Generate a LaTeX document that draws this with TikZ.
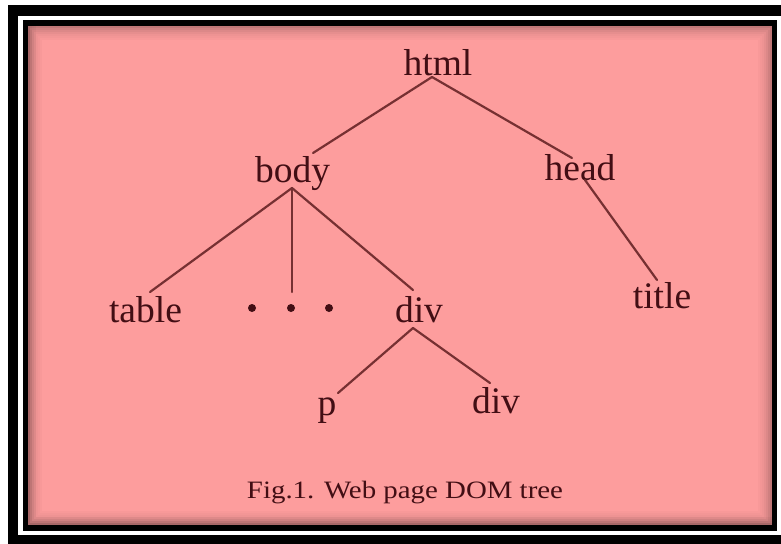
\documentclass[tikz,border=0pt]{standalone}
\usepackage{fontspec}
\setmainfont{Liberation Serif}
\definecolor{pinkbg}{RGB}{253,157,157}
\definecolor{inkc}{RGB}{66,14,20}
\definecolor{edgec}{RGB}{118,48,50}
\begin{document}
\begin{tikzpicture}[x=1pt,y=-1pt,
  lbl/.style={inner sep=0pt, anchor=base, text=inkc, font=\fontsize{37.5}{40}\selectfont},
  captionlbl/.style={inner sep=0pt, anchor=base, text=inkc, font=\fontsize{25}{28}\selectfont, xscale=1.155},
  edge/.style={draw=edgec, line width=2.2pt, line cap=round},
  dotnode/.style={circle, fill=inkc, inner sep=0pt, minimum size=8pt}]
\useasboundingbox (0,0) rectangle (781,543);
\clip (0,0) rectangle (781,543);
\fill[white] (0,0) rectangle (781,543);
% outer frame
\draw[line width=10.8pt] (13,10.5) rectangle (800,540.5);
% pink panel with inner shadow
\fill[pinkbg] (28,26) rectangle (772,525);
\foreach \i/\o in {1/0.24,2/0.18,3/0.13,4/0.09,5/0.06,6/0.04,7/0.02}
  \draw[black, opacity=\o, line width=2pt] ({27+2*\i},{25+2*\i}) rectangle ({773-2*\i},{526-2*\i});
% extra shadow on left and bottom edges
\foreach \i/\o in {1/0.12,2/0.08,3/0.05,4/0.03}
  \draw[black, opacity=\o, line width=2pt] ({27+2*\i},26) -- ({27+2*\i},{526-2*\i}) -- (772,{526-2*\i});
% inner frame line
\draw[line width=5.5pt] (25.5,23) rectangle (774.5,528);
% nodes
\node[lbl] (html) at (438,75) {html};
\node[lbl] (body) at (292.5,182) {body};
\node[lbl] (head) at (580,180) {head};
\node[lbl] (table) at (145.5,322) {table};
\node[dotnode] (dot1) at (252,308) {};
\node[dotnode] (dot2) at (291,308) {};
\node[dotnode] (dot3) at (329,308) {};
\node[lbl] (div) at (419,322) {div};
\node[lbl] (title) at (662,308) {title};
\node[lbl] (p) at (327,415) {p};
\node[lbl] (div2) at (496,413) {div};
\node[captionlbl] (cap) at (405,498) {Fig.1. Web page DOM tree};
% connectors
\draw[edge] ([shift={(-6,2)}]html.base) -- ([shift={(20.5,-29)}]body.base);
\draw[edge] ([shift={(-6,2)}]html.base) -- ([shift={(-8,-22)}]head.base);
\draw[edge] ([shift={(5,0)}]head.base) -- ([shift={(-5,-28)}]title.base);
\draw[edge] ([shift={(-0.5,6)}]body.base) -- ([shift={(4.5,-30)}]table.base);
\draw[edge] ([shift={(-0.5,6)}]body.base) -- ([shift={(1,-16)}]dot2.center);
\draw[edge] ([shift={(-0.5,6)}]body.base) -- ([shift={(-6,-32)}]div.base);
\draw[edge] ([shift={(-6,6)}]div.base) -- ([shift={(11,-22)}]p.base);
\draw[edge] ([shift={(-6,6)}]div.base) -- ([shift={(-6,-30)}]div2.base);
\end{tikzpicture}
\end{document}
